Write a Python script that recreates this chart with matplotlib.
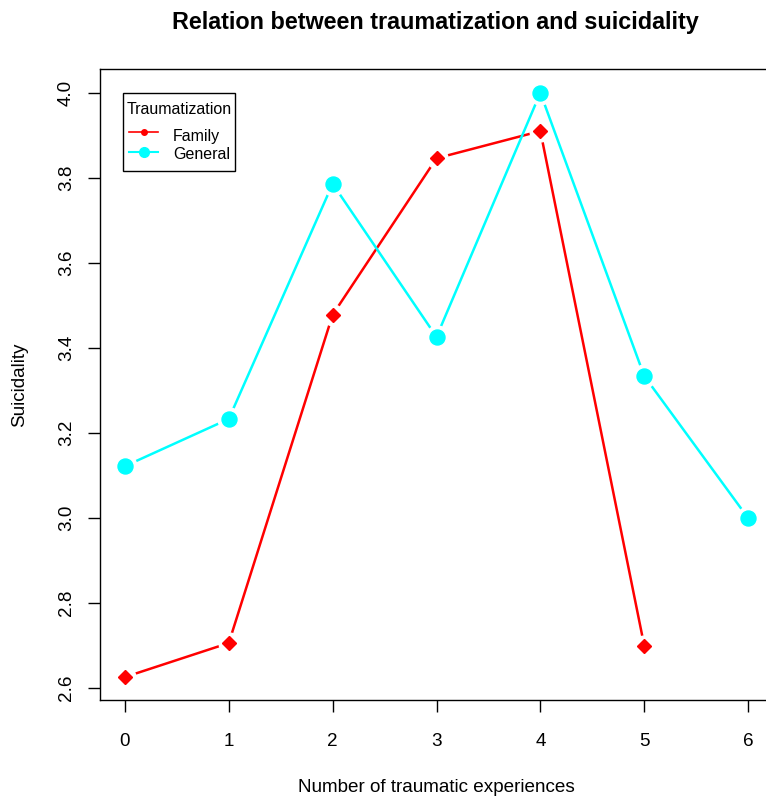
import matplotlib
matplotlib.use("Agg")
import matplotlib.pyplot as plt
from matplotlib.lines import Line2D
from matplotlib.patches import Rectangle

plt.rcParams['font.family'] = ['Liberation Sans', 'DejaVu Sans']

experiences = [0, 1, 2, 3, 4, 5, 6]
family_x = [0, 1, 2, 3, 4, 5]
family = [2.626, 2.706, 3.478, 3.846, 3.910, 2.700]
general_x = [0, 1, 2, 3, 4, 5, 6]
general = [3.122, 3.233, 3.786, 3.426, 4.000, 3.334, 3.000]
yticks = [2.6, 2.8, 3.0, 3.2, 3.4, 3.6, 3.8, 4.0]
legend_title = "Traumatization"
legend_labels = ["Family", "General"]

W, H = 766, 800
fig = plt.figure(figsize=(W / 100, H / 100), dpi=100)
ax = fig.add_axes([100/W, 100/H, 673/W, 631/H])

def px(x, y):
    # pixel position (from top left) -> figure fraction
    return x / W, 1 - y / H

# lines, then white halos to get the R type="b" gaps, then the markers
ax.plot(family_x, family, color='red', lw=1.8, zorder=2)
ax.plot(general_x, general, color='cyan', lw=1.8, zorder=2)
ax.plot(family_x, family, ls='none', marker='o', ms=15, color='white', zorder=3)
ax.plot(general_x, general, ls='none', marker='o', ms=16.5, color='white', zorder=3)
ax.plot(family_x, family, ls='none', marker='D', ms=6.8, color='red', zorder=4)
ax.plot(general_x, general, ls='none', marker='o', ms=10.8, color='cyan', zorder=4)

ax.set_xlim(-0.24, 6.24)
ax.set_ylim(2.572, 4.056)
ax.set_xticks(experiences)
ax.set_yticks(yticks)
ax.set_yticklabels([f"{v:.1f}" for v in yticks], rotation=90, va='center')
ax.tick_params(direction='out', length=8.6, width=1, labelsize=13.6)
ax.tick_params(axis='x', pad=15)
ax.tick_params(axis='y', pad=9.5)
for s in ax.spines.values():
    s.set_linewidth(1)

ax.set_xlabel("Number of traumatic experiences", fontsize=13.6)
ax.xaxis.label.set_va('center')
ax.xaxis.set_label_coords(0.5, -0.138)
ax.set_ylabel("Suicidality", fontsize=13.6)
ax.yaxis.label.set_va('center')
ax.yaxis.set_label_coords(-0.119, 0.5)

fig.text(*px(435, 22), "Relation between traumatization and suicidality",
         fontsize=16.8, fontweight='bold', ha='center', va='center')

# legend drawn by hand, R style
x0, y0 = px(123, 171)
x1, y1 = px(235, 93)
fig.add_artist(Rectangle((x0, y0), x1 - x0, y1 - y0, transform=fig.transFigure,
                         facecolor='white', edgecolor='black', lw=1, zorder=5))
fig.text(*px(127, 114), legend_title, fontsize=11.5, va='baseline', zorder=6)
leg_styles = [('red', 1.2, 4), ('cyan', 1.5, 7)]
for i, (lab, (c, lw, ms)) in enumerate(zip(legend_labels, leg_styles)):
    ly = 132 + 20 * i
    (ax0, ayy), (ax1, _) = px(129, ly), px(158, ly)
    fig.add_artist(Line2D([ax0, ax1], [ayy, ayy], transform=fig.transFigure,
                          color=c, lw=lw, zorder=6))
    fig.add_artist(Line2D([(ax0 + ax1) / 2], [ayy], transform=fig.transFigure,
                          color=c, marker='o', ms=ms, ls='none', zorder=6))
    fig.text(*px(173, 141 + 18 * i), lab, fontsize=11.5, va='baseline', zorder=6)

fig.savefig("out.png", dpi=100)
